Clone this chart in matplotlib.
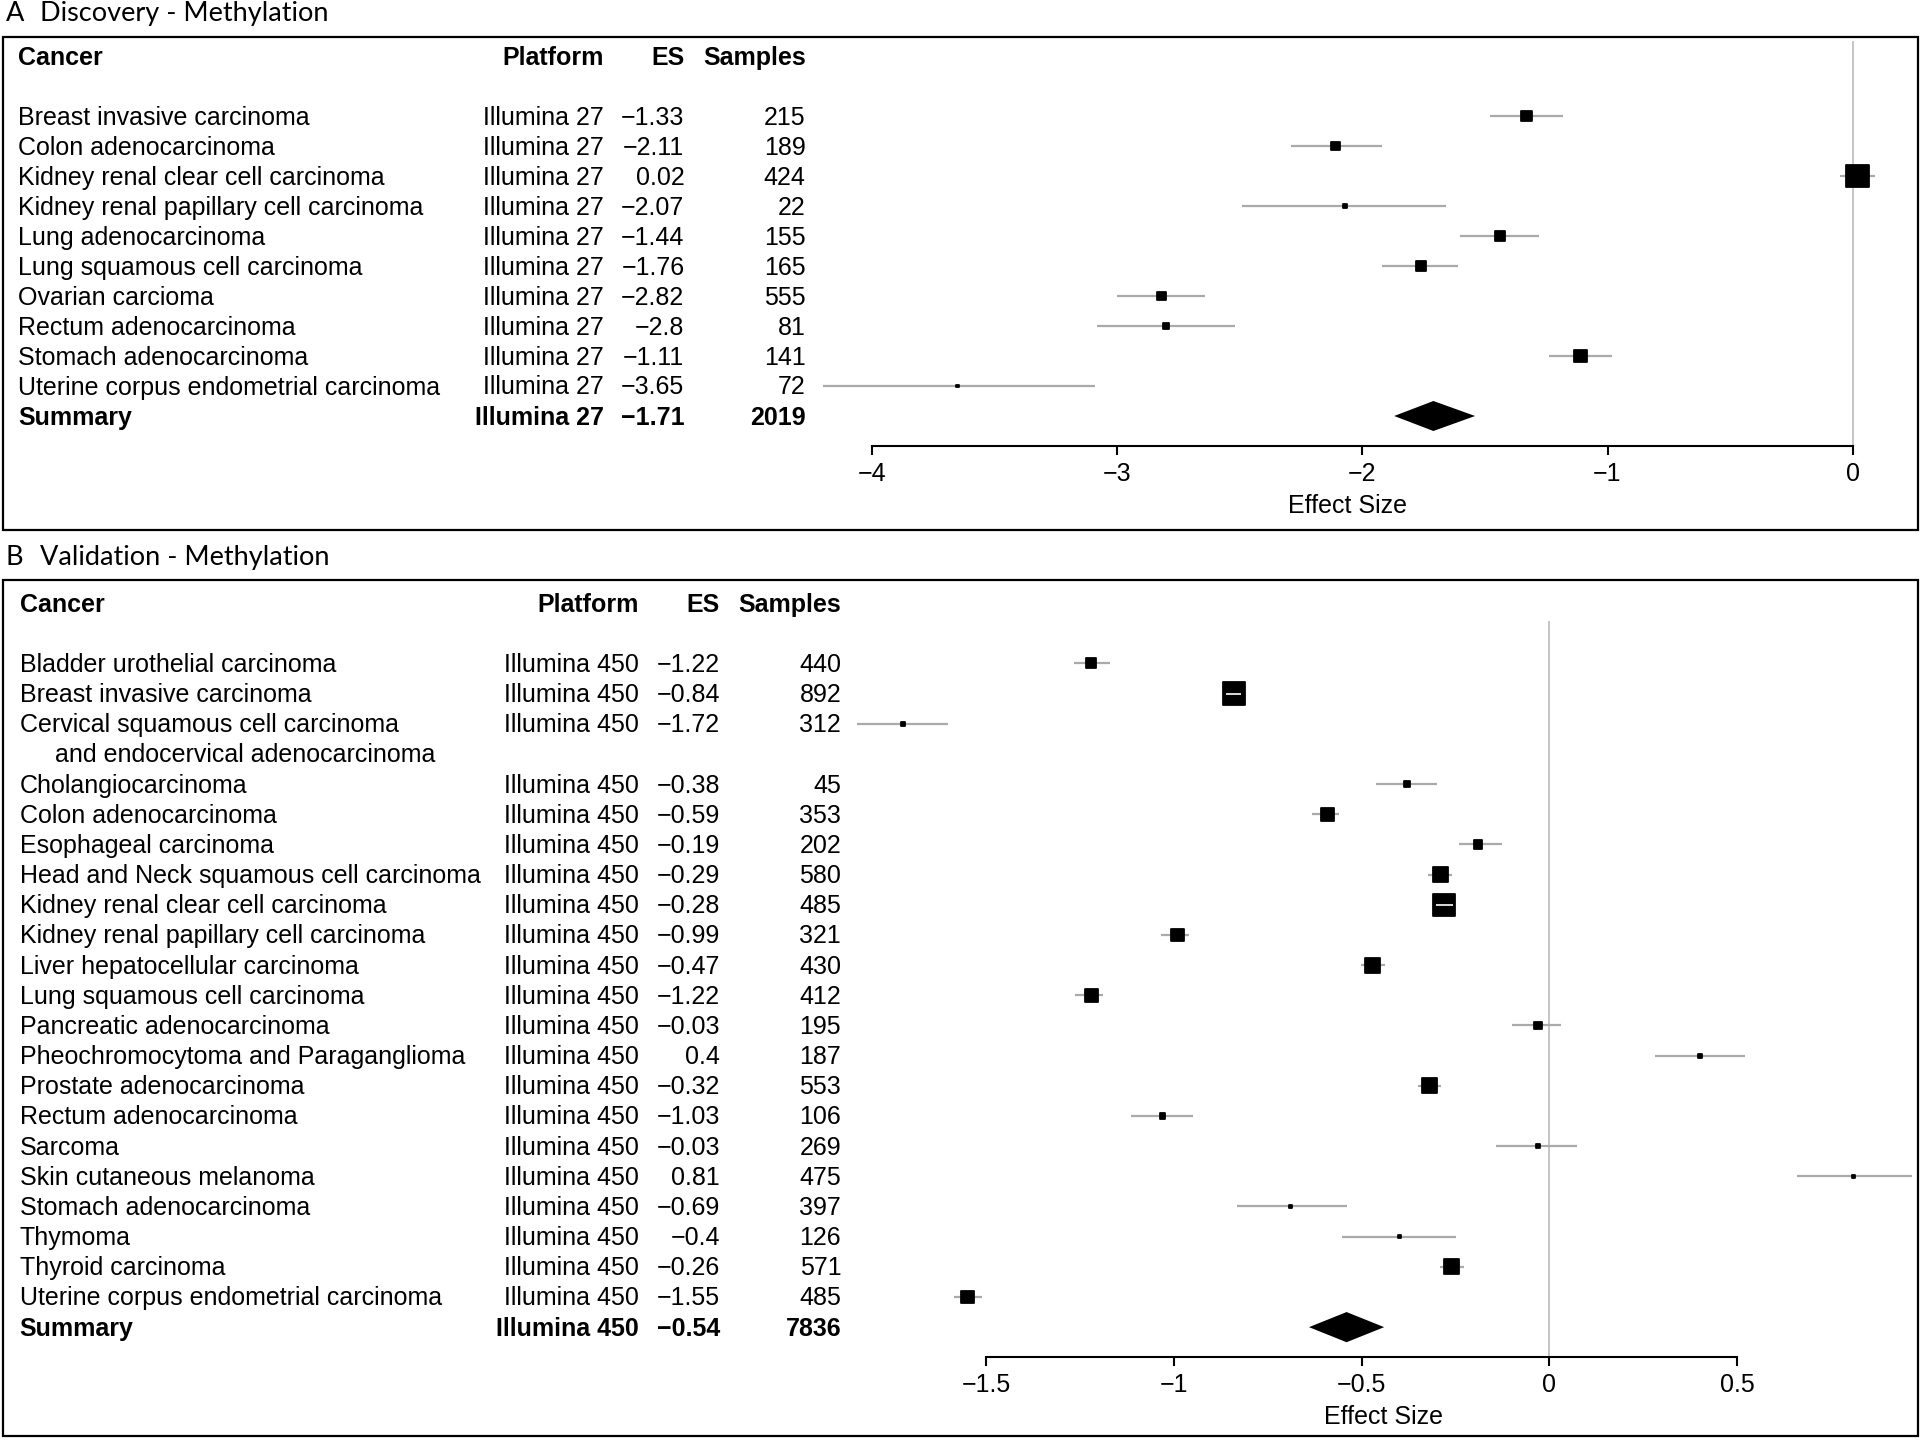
import matplotlib
matplotlib.use("Agg")
import matplotlib.pyplot as plt
from matplotlib.transforms import blended_transform_factory
from matplotlib.patches import Rectangle
import numpy as np

plt.rcParams['font.family'] = ['Liberation Sans', 'DejaVu Sans']

# ---------------- data ----------------
names_a = ["Breast invasive carcinoma", "Colon adenocarcinoma", "Kidney renal clear cell carcinoma",
           "Kidney renal papillary cell carcinoma", "Lung adenocarcinoma", "Lung squamous cell carcinoma",
           "Ovarian carcioma", "Rectum adenocarcinoma", "Stomach adenocarcinoma",
           "Uterine corpus endometrial carcinoma"]
platform_a = ["Illumina 27"] * 10
es_a = [-1.33, -2.11, 0.02, -2.07, -1.44, -1.76, -2.82, -2.8, -1.11, -3.65]
n_a = [215, 189, 424, 22, 155, 165, 555, 81, 141, 72]
lo_a = [-1.48, -2.29, -0.05, -2.49, -1.60, -1.92, -3.00, -3.08, -1.24, -4.20]
hi_a = [-1.18, -1.92, 0.09, -1.66, -1.28, -1.61, -2.64, -2.52, -0.98, -3.09]
summary_a = {"platform": "Illumina 27", "es": -1.71, "n": 2019, "lo": -1.87, "hi": -1.54}
ticks_a = [-4, -3, -2, -1, 0]
ticklabels_a = ["\u22124", "\u22123", "\u22122", "\u22121", "0"]

names_b = ["Bladder urothelial carcinoma", "Breast invasive carcinoma",
           "Cervical squamous cell carcinoma\nand endocervical adenocarcinoma",
           "Cholangiocarcinoma", "Colon adenocarcinoma", "Esophageal carcinoma",
           "Head and Neck squamous cell carcinoma", "Kidney renal clear cell carcinoma",
           "Kidney renal papillary cell carcinoma", "Liver hepatocellular carcinoma",
           "Lung squamous cell carcinoma", "Pancreatic adenocarcinoma",
           "Pheochromocytoma and Paraganglioma", "Prostate adenocarcinoma",
           "Rectum adenocarcinoma", "Sarcoma", "Skin cutaneous melanoma",
           "Stomach adenocarcinoma", "Thymoma", "Thyroid carcinoma",
           "Uterine corpus endometrial carcinoma"]
platform_b = ["Illumina 450"] * 21
es_b = [-1.22, -0.84, -1.72, -0.38, -0.59, -0.19, -0.29, -0.28, -0.99, -0.47, -1.22,
        -0.03, 0.4, -0.32, -1.03, -0.03, 0.81, -0.69, -0.4, -0.26, -1.55]
n_b = [440, 892, 312, 45, 353, 202, 580, 485, 321, 430, 412, 195, 187, 553, 106,
       269, 475, 397, 126, 571, 485]
lo_b = [-1.265, -0.862, -1.843, -0.461, -0.632, -0.241, -0.322, -0.301, -1.035, -0.502,
        -1.262, -0.099, 0.281, -0.351, -1.114, -0.141, 0.660, -0.832, -0.551, -0.290, -1.584]
hi_b = [-1.171, -0.820, -1.600, -0.298, -0.559, -0.127, -0.259, -0.257, -0.959, -0.439,
        -1.189, 0.031, 0.522, -0.288, -0.948, 0.074, 0.965, -0.538, -0.248, -0.228, -1.510]
summary_b = {"platform": "Illumina 450", "es": -0.54, "n": 7836, "lo": -0.64, "hi": -0.44}
ticks_b = [-1.5, -1, -0.5, 0, 0.5]
ticklabels_b = ["\u22121.5", "\u22121", "\u22120.5", "0", "0.5"]

# ---------------- figure ----------------
W, H = 1920, 1440
fig = plt.figure(figsize=(W / 100, H / 100), dpi=100)
def fx(px): return px / W
def fy(py): return 1 - py / H

FS = 18
CI_COLOR = "#aaaaaa"
ZERO_COLOR = "#bbbbbb"
TXT_DY = 0.08   # small downward nudge of table text (in rows)


def fmt_es(v):
    return f"{v:g}".replace("-", "\u2212")


def panel(letter, title, title_y, box_top, box_bot, names, platforms, es, ns, lo, hi, summ,
          ticks, ticklabels, cols, ax_left, x0_px, ppu, row0_px, step, zero_top_px, label_px):
    # frame and title
    fig.add_artist(Rectangle((fx(2.5), fy(box_bot)), fx(1915), (box_bot - box_top) / H,
                             transform=fig.transFigure, fill=False, lw=1.6, ec="black"))
    fig.text(fx(6), fy(title_y), letter, fontsize=19.5, family=["Lato", "DejaVu Sans"],
             va="center", ha="left")
    fig.text(fx(40), fy(title_y), title, fontsize=19.5, family=["Lato", "DejaVu Sans"],
             va="center", ha="left")

    ax_top, ax_bot, ax_right = box_top + 4, box_bot - 6, 1912
    ax = fig.add_axes([fx(ax_left), fy(ax_bot), (ax_right - ax_left) / W, (ax_bot - ax_top) / H])
    v = lambda px: (px - x0_px) / ppu
    r = lambda py: (py - row0_px) / step
    ax.set_xlim(v(ax_left), v(ax_right))
    ax.set_ylim(r(ax_bot), r(ax_top))
    ax.patch.set_visible(False)
    for s in ["top", "left", "right"]:
        ax.spines[s].set_visible(False)
    ax.set_yticks([])

    # row positions (multi-line names take extra rows)
    rows = []
    pos = 0
    for nm in names:
        rows.append(pos)
        pos += nm.count("\n") + 1
    summ_row = pos
    axis_row = summ_row + 1.03

    trans = blended_transform_factory(fig.transFigure, ax.transData)
    c_cancer, c_plat, c_es, c_n = cols
    # header
    for txt, x, ha in [("Cancer", c_cancer, "left"), ("Platform", c_plat, "right"),
                       ("ES", c_es, "right"), ("Samples", c_n, "right")]:
        ax.text(fx(x), -2 + TXT_DY, txt, transform=trans, ha=ha, va="center", fontsize=FS,
                fontweight="bold")
    for i, nm in enumerate(names):
        lines = nm.split("\n")
        y = rows[i] + TXT_DY
        for k, ln in enumerate(lines):
            ax.text(fx(c_cancer + (35 if k > 0 else 0)), y + k, ln, transform=trans,
                    ha="left", va="center", fontsize=FS)
        ax.text(fx(c_plat), y, platforms[i], transform=trans, ha="right", va="center", fontsize=FS)
        ax.text(fx(c_es), y, fmt_es(es[i]), transform=trans, ha="right", va="center", fontsize=FS)
        ax.text(fx(c_n), y, str(ns[i]), transform=trans, ha="right", va="center", fontsize=FS)
    ys = summ_row + TXT_DY
    ax.text(fx(c_cancer), ys, "Summary", transform=trans, ha="left", va="center",
            fontsize=FS, fontweight="bold")
    ax.text(fx(c_plat), ys, summ["platform"], transform=trans, ha="right", va="center",
            fontsize=FS, fontweight="bold")
    ax.text(fx(c_es), ys, fmt_es(summ["es"]), transform=trans, ha="right", va="center",
            fontsize=FS, fontweight="bold")
    ax.text(fx(c_n), ys, str(summ["n"]), transform=trans, ha="right", va="center",
            fontsize=FS, fontweight="bold")

    # zero line
    ax.plot([0, 0], [r(zero_top_px), axis_row], color=ZERO_COLOR, lw=1.2, zorder=0,
            solid_capstyle="butt")

    es_arr, lo_arr, hi_arr = np.array(es), np.array(lo), np.array(hi)
    info = 1.0 / (hi_arr - lo_arr)
    wt = info / info.max()
    side_px = 22.5 * wt
    edge_px = 1.8
    rows_arr = np.array(rows, dtype=float) + 0.03
    ax.hlines(rows_arr, lo_arr, hi_arr, color=CI_COLOR, lw=1.6, zorder=1)
    ax.scatter(es_arr, rows_arr, marker="s", s=(side_px * 0.72) ** 2, c="black",
               edgecolors="black", linewidths=edge_px * 0.72, zorder=2)
    hw = (side_px / 2 + edge_px / 2) / ppu
    inside = (lo_arr >= es_arr - hw) & (hi_arr <= es_arr + hw)
    if inside.any():
        ax.hlines(rows_arr[inside], lo_arr[inside], hi_arr[inside], color="white", lw=1.2, zorder=3)

    # summary diamond
    sr = summ_row + 0.03
    ax.fill([summ["lo"], summ["es"], summ["hi"], summ["es"]],
            [sr, sr - 0.5, sr, sr + 0.5], color="black", lw=0, zorder=3)

    # x axis
    ax.spines["bottom"].set_position(("data", axis_row))
    ax.spines["bottom"].set_bounds(ticks[0], ticks[-1])
    ax.spines["bottom"].set_linewidth(1.5)
    ax.set_xticks(ticks)
    ax.set_xticklabels(ticklabels)
    ax.tick_params(axis="x", direction="out", length=6.5, width=1.5, pad=4.8, labelsize=FS)
    ax.set_xlabel("Effect Size", fontsize=FS, labelpad=6)
    ax.xaxis.label.set_x((label_px - ax_left) / (ax_right - ax_left))
    return ax


panel("A", "Discovery - Methylation", 13.5, 36.7, 530.2, names_a, platform_a, es_a, n_a,
      lo_a, hi_a, summary_a, ticks_a, ticklabels_a, (18.4, 603.7, 684.5, 805.7),
      820, 1852.7, 245.2, 115.1, 30.0, 40.4, 1348)
panel("B", "Validation - Methylation", 557.0, 580.4, 1436.4, names_b, platform_b, es_b, n_b,
      lo_b, hi_b, summary_b, ticks_b, ticklabels_b, (19.6, 639.2, 720.0, 841.2),
      850, 1549.4, 375.6, 662.5, 30.17, 620.8, 1384)

fig.savefig("out.png", dpi=100)
